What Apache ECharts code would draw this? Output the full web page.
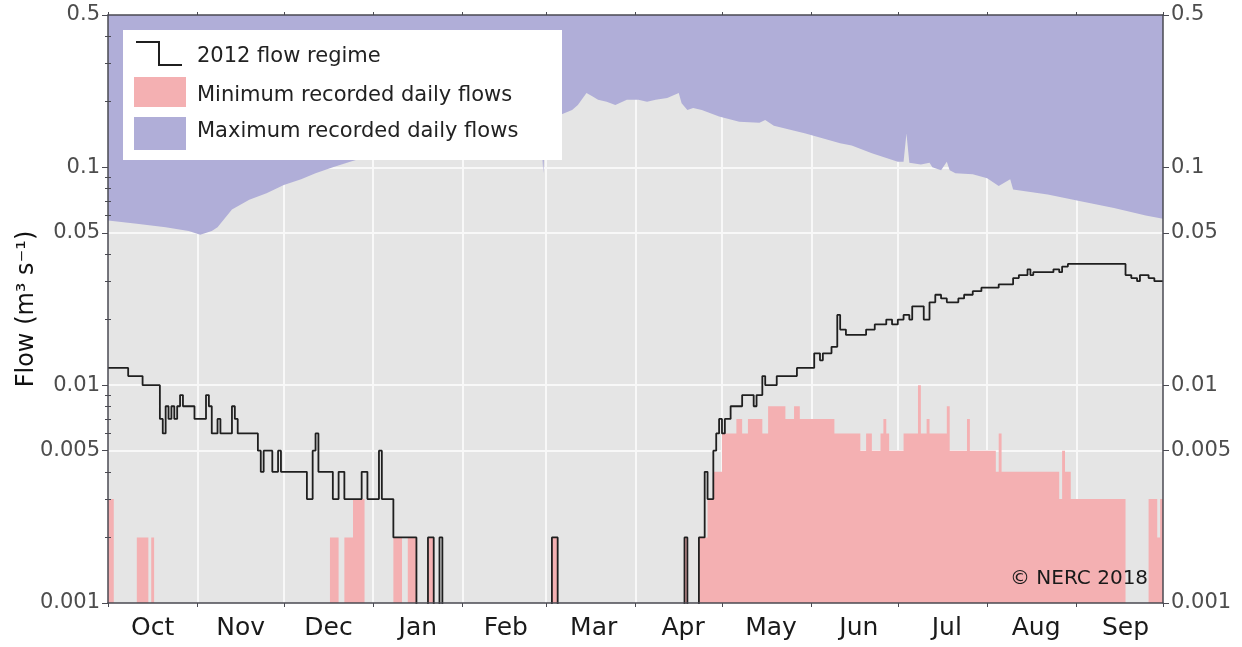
<!DOCTYPE html>
<html><head><meta charset="utf-8">
<script src="https://cdn.jsdelivr.net/npm/echarts@6/dist/echarts.min.js"></script>
<style>html,body{margin:0;padding:0;background:#fff}#c{width:1242px;height:647px}</style>
</head><body><div id="c"></div>
<script>
// ---- axes / labels ----
const monthStartDays = [0,31,61,92,123,152,183,213,244,274,305,336,366];
const monthLabels = ['Oct','Nov','Dec','Jan','Feb','Mar','Apr','May','Jun','Jul','Aug','Sep'];
const monthLabelDays = [15.5,46,76.5,107.5,138,168.5,199.5,230,260.5,291,322,353];
const yTickValues = [0.001,0.005,0.01,0.05,0.1,0.5];
const yTickLabels = ['0.001','0.005','0.01','0.05','0.1','0.5'];
const yMinorTicks = [0.002,0.003,0.004,0.006,0.007,0.008,0.009,0.02,0.03,0.04,0.06,0.07,0.08,0.09,0.2,0.3,0.4];
const yGridValues = [0.005,0.01,0.05,0.1];
const legendLabels = ['2012 flow regime','Minimum recorded daily flows','Maximum recorded daily flows'];
const yAxisTitle = 'Flow (m\u00B3 s\u207B\u00B9)';
const creditText = '\u00A9 NERC 2018';

// ---- 2012 flow (day of water year from 1 Oct 2011, flow m3/s; 0 = no flow) ----
const flowDays = [0,7,12,18,19,20,21,22,23,24,25,26,30,34,35,36,38,39,43,44,45,52,53,54,57,59,60,69,71,72,73,78,80,82,88,90,94,95,99,107,111,113,115,116,154,156,200,201,205,207,208,210,211,212,213,214,216,220,224,225,227,228,232,239,245,247,248,251,253,254,256,263,266,270,272,274,276,278,279,283,285,287,289,291,295,297,300,303,309,314,316,319,320,321,328,330,331,333,353,355,357,358,361,363];
const flowValues = [0.012,0.011,0.010,0.007,0.006,0.008,0.007,0.008,0.007,0.008,0.009,0.008,0.007,0.009,0.008,0.006,0.007,0.006,0.008,0.007,0.006,0.005,0.004,0.005,0.004,0.005,0.004,0.003,0.005,0.006,0.004,0.003,0.004,0.003,0.004,0.003,0.005,0.003,0.002,0,0.002,0,0.002,0,0.002,0,0.002,0,0.002,0.004,0.003,0.005,0.006,0.007,0.006,0.007,0.008,0.009,0.008,0.009,0.011,0.010,0.011,0.012,0.014,0.013,0.014,0.015,0.021,0.018,0.017,0.018,0.019,0.020,0.019,0.020,0.021,0.020,0.023,0.020,0.024,0.026,0.025,0.024,0.025,0.026,0.027,0.028,0.029,0.031,0.032,0.034,0.032,0.033,0.034,0.033,0.035,0.036,0.032,0.031,0.030,0.032,0.031,0.030];

// ---- minimum recorded daily flows ----
const minDays = [0,2,10,14,15,16,77,80,82,85,89,99,102,104,107,111,113,154,156,200,201,205,208,210,213,218,220,222,227,229,235,238,240,252,261,263,265,268,269,270,271,276,281,282,284,285,291,292,298,299,308,309,310,330,331,332,334,353,361,364,365];
const minValues = [0.003,0,0.002,0,0.002,0,0.002,0,0.002,0.003,0,0.002,0,0.002,0,0.002,0,0.002,0,0.002,0,0.002,0.003,0.004,0.006,0.007,0.006,0.007,0.006,0.008,0.007,0.008,0.007,0.006,0.005,0.006,0.005,0.006,0.007,0.006,0.005,0.006,0.010,0.006,0.007,0.006,0.008,0.005,0.007,0.005,0.004,0.006,0.004,0.003,0.005,0.004,0.003,0,0.003,0.002,0.003];

// ---- maximum recorded daily flows ----
const maxDays = [0,10,20,28,32,36,38,43,49,55,61,67,72,78,84,90,100,110,120,130,140,150,151,152,157,161,163,165,166,168,170,173,176,180,184,187,190,194,198,199,201,203,206,212,219,226,228,231,242,254,258,265,274,276,277,278,282,285,286,289,291,292,294,300,305,309,313,314,326,337,349,360,366];
const maxValues = [0.057,0.055,0.053,0.051,0.049,0.051,0.053,0.064,0.071,0.076,0.083,0.088,0.094,0.100,0.106,0.112,0.120,0.134,0.145,0.156,0.165,0.169,0.094,0.170,0.174,0.183,0.193,0.210,0.219,0.212,0.204,0.200,0.193,0.204,0.204,0.200,0.204,0.208,0.219,0.197,0.183,0.187,0.183,0.171,0.162,0.160,0.165,0.155,0.143,0.129,0.126,0.116,0.106,0.106,0.143,0.105,0.103,0.105,0.100,0.097,0.106,0.097,0.094,0.093,0.089,0.082,0.088,0.079,0.075,0.070,0.065,0.060,0.058];

const END_DAY = 366;
const Y_MIN = Math.log10(0.001), Y_MAX = Math.log10(0.5);
const L = v => v > 0 ? Math.log10(v) : -3.3;
function stepData(days, vals) {
  const d = days.map((x, i) => [x, L(vals[i])]);
  d.push([END_DAY, L(vals[vals.length - 1])]);
  return d;
}
function yLabel(v) {
  let bi = 0, bd = 1e9;
  yTickValues.forEach((t, i) => { const dd = Math.abs(Math.log10(t) - v); if (dd < bd) { bd = dd; bi = i; } });
  return yTickLabels[bi];
}
function mLabel(v) {
  let bi = 0, bd = 1e9;
  monthLabelDays.forEach((t, i) => { const dd = Math.abs(t - v); if (dd < bd) { bd = dd; bi = i; } });
  return monthLabels[bi];
}

const COL_FLOW = '#1f1f1f', COL_MIN = '#f4b0b2', COL_MAX = '#b0aed8';
const AXIS_COL = '#4a4a52';
const FONT = 'DejaVu Sans';
const tickLog = yTickValues.map(v => Math.log10(v));
const minorLog = yMinorTicks.map(v => Math.log10(v));
const gridLog = yGridValues.map(v => Math.log10(v));

const yBase = { type: 'value', min: Y_MIN, max: Y_MAX, splitLine: { show: false } };
const xBase = { type: 'value', min: 0, max: END_DAY, splitLine: { show: false } };
const labelFont = { fontFamily: FONT, fontSize: 21, color: '#4d4d4d' };

const chart = echarts.init(document.getElementById('c'), null, { renderer: 'canvas' });
chart.setOption({
  animation: false,
  backgroundColor: '#ffffff',
  grid: { left: 108, right: 79, top: 15, bottom: 44, show: true, backgroundColor: '#e5e5e5', borderWidth: 0,
    containLabel: false, outerBoundsMode: 'none' },
  xAxis: [
    Object.assign({}, xBase, { position: 'bottom', z: 10,
      axisLine: { show: true, onZero: false, lineStyle: { color: AXIS_COL, width: 1.5 } },
      axisTick: { show: true, customValues: monthStartDays, length: 4, lineStyle: { color: AXIS_COL } },
      axisLabel: { show: true, customValues: monthLabelDays, formatter: mLabel, margin: 13,
        fontFamily: FONT, fontSize: 25, color: '#1a1a1a' } }),
    Object.assign({}, xBase, { position: 'top', z: 10,
      axisLine: { show: true, onZero: false, lineStyle: { color: AXIS_COL, width: 1.5 } },
      axisTick: { show: true, customValues: monthStartDays, length: 3, lineStyle: { color: AXIS_COL } },
      axisLabel: { show: false } }),
    Object.assign({}, xBase, { position: 'bottom', z: 0,
      axisLine: { show: false }, axisTick: { show: false, customValues: monthStartDays.slice(1, -1) },
      axisLabel: { show: false },
      splitLine: { show: true, lineStyle: { color: '#f8f8f8', width: 2 } } })
  ],
  yAxis: [
    Object.assign({}, yBase, { position: 'left', z: 10,
      name: yAxisTitle, nameLocation: 'middle', nameGap: 69, nameMoveOverlap: false,
      nameTextStyle: { fontFamily: FONT, fontSize: 24, color: '#111' },
      axisLine: { show: true, onZero: false, lineStyle: { color: AXIS_COL, width: 1.5 } },
      axisTick: { show: true, customValues: tickLog, length: 6, lineStyle: { color: AXIS_COL } },
      axisLabel: Object.assign({ show: true, customValues: tickLog, formatter: yLabel, margin: 8 }, labelFont) }),
    Object.assign({}, yBase, { position: 'right', z: 10,
      axisLine: { show: true, onZero: false, lineStyle: { color: AXIS_COL, width: 1.5 } },
      axisTick: { show: true, customValues: tickLog, length: 6, lineStyle: { color: AXIS_COL } },
      axisLabel: Object.assign({ show: true, customValues: tickLog, formatter: yLabel, margin: 8 }, labelFont) }),
    Object.assign({}, yBase, { position: 'left', z: 10,
      axisLine: { show: false },
      axisTick: { show: true, customValues: minorLog, length: 3, lineStyle: { color: AXIS_COL } },
      axisLabel: { show: false } }),
    Object.assign({}, yBase, { position: 'right', z: 10,
      axisLine: { show: false },
      axisTick: { show: true, customValues: minorLog, length: 3, lineStyle: { color: AXIS_COL } },
      axisLabel: { show: false } }),
    Object.assign({}, yBase, { position: 'left', z: 0,
      axisLine: { show: false }, axisTick: { show: false, customValues: gridLog },
      axisLabel: { show: false },
      splitLine: { show: true, lineStyle: { color: '#f8f8f8', width: 2 } } })
  ],
  series: [
    { name: legendLabels[2], type: 'line', xAxisIndex: 0, yAxisIndex: 0, z: 2,
      data: maxDays.map((d, i) => [d, L(maxValues[i])]),
      symbol: 'none', lineStyle: { width: 0 }, clip: true,
      areaStyle: { color: COL_MAX, opacity: 1, origin: 'end' } },
    { name: legendLabels[1], type: 'line', xAxisIndex: 0, yAxisIndex: 0, z: 3, step: 'end',
      data: stepData(minDays, minValues),
      symbol: 'none', lineStyle: { width: 0 }, clip: true,
      areaStyle: { color: COL_MIN, opacity: 1, origin: 'start' } },
    { name: legendLabels[0], type: 'line', xAxisIndex: 0, yAxisIndex: 0, z: 4, step: 'end',
      data: stepData(flowDays, flowValues),
      symbol: 'none', clip: true,
      lineStyle: { color: COL_FLOW, width: 1.8 } }
  ],
  graphic: [
    { type: 'rect', left: 123, top: 30, z: 100, shape: { width: 439, height: 130 }, style: { fill: '#ffffff' } },
    { type: 'polyline', z: 101, shape: { points: [[136, 42], [159, 42], [159, 65], [182, 65]] },
      style: { stroke: COL_FLOW, lineWidth: 2, fill: null } },
    { type: 'rect', left: 134, top: 77, z: 101, shape: { width: 52, height: 30 }, style: { fill: COL_MIN } },
    { type: 'rect', left: 134, top: 117, z: 101, shape: { width: 52, height: 33 }, style: { fill: COL_MAX } },
    { type: 'text', left: 197, top: 46, z: 101, style: { text: legendLabels[0], font: '21px "DejaVu Sans"', fill: '#222' } },
    { type: 'text', left: 197, top: 85, z: 101, style: { text: legendLabels[1], font: '21px "DejaVu Sans"', fill: '#222' } },
    { type: 'text', left: 197, top: 121, z: 101, style: { text: legendLabels[2], font: '21px "DejaVu Sans"', fill: '#222' } },
    { type: 'text', left: 1010, top: 569, z: 101, style: { text: creditText, font: '20px "DejaVu Sans"', fill: '#1a1a1a' } }
  ]
});
</script></body></html>
